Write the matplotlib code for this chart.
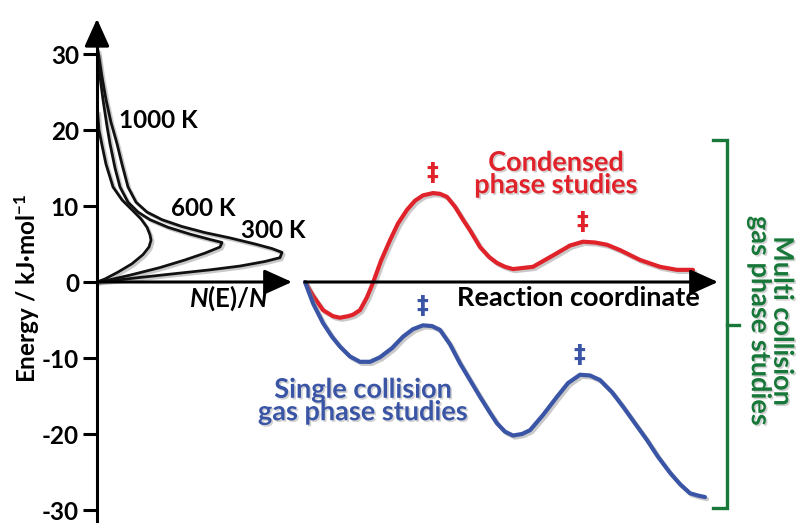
import matplotlib
matplotlib.use("Agg")
import matplotlib.pyplot as plt
import matplotlib.patheffects as pe
import numpy as np

plt.rcParams['font.family'] = ['Lato', 'DejaVu Sans']
plt.rcParams['font.weight'] = 'bold'
plt.rcParams['mathtext.fontset'] = 'custom'
plt.rcParams['mathtext.rm'] = 'Lato:bold'
plt.rcParams['mathtext.it'] = 'Lato:bold:italic'
plt.rcParams['mathtext.bf'] = 'Lato:bold'

# energy axis ticks (kJ/mol)
energy_ticks = [-30, -20, -10, 0, 10, 20, 30]

# population distributions N(E)/N (arbitrary width units) vs energy
pop_1000 = [0.5, 2, 5, 9, 16, 25, 35, 44, 50, 53, 54, 52, 46, 35, 21, 8, 0]
E_1000 = [22.5, 20, 18, 15.5, 12.5, 10.8, 9.5, 8.3, 7.2, 6.2, 5.5, 4.6, 3.6, 2.4, 1.3, 0.4, 0]
pop_600 = [1, 3, 6, 10, 13, 18, 23, 31, 41, 53, 71, 93, 113, 125, 123, 108, 88, 63, 33, 13, 0]
E_600 = [30.5, 27, 24, 20.5, 18.2, 15, 12.5, 10.5, 9.2, 8.2, 7.2, 6.3, 5.6, 5.2, 4.6, 3.8, 2.9, 1.9, 0.9, 0.3, 0]
pop_300 = [1.5, 5, 9, 14, 20, 25, 31, 39, 50, 65, 85, 108, 133, 158, 175, 185, 183, 168, 143, 113, 78, 43, 13, 0]
E_300 = [30, 27, 24, 21, 18.2, 15.5, 12.5, 10.5, 9.2, 8.2, 7.3, 6.5, 5.8, 5.0, 4.4, 3.9, 3.2, 2.7, 2.1, 1.6, 1.1, 0.6, 0.15, 0]
temp_labels = ['1000 K', '600 K', '300 K']

# reaction coordinate profiles (arbitrary units along coordinate)
rc_red = [0, 8, 18, 28, 35, 43, 48, 55, 62, 68, 76, 85, 93, 102, 110, 118, 128, 135,
          142, 150, 158, 165, 175, 184, 192, 200, 208, 228, 252, 265, 278, 290, 302,
          315, 335, 355, 372, 388]
E_red = [0, -1.8, -3.7, -4.5, -4.7, -4.5, -4.3, -3.7, -2.0, -0.1, 2.8, 5.5, 7.7, 9.5,
         10.7, 11.4, 11.7, 11.6, 11.2, 9.9, 8.2, 6.8, 4.6, 3.3, 2.5, 2.0, 1.7, 2.0,
         3.8, 4.8, 5.3, 5.2, 4.9, 4.2, 2.9, 2.0, 1.6, 1.6]
rc_blue = [0, 8, 18, 27, 35, 45, 55, 65, 75, 87, 98, 108, 118, 127, 135, 145, 155,
           165, 175, 185, 192, 200, 208, 217, 225, 238, 252, 263, 275, 285, 295, 307,
           318, 330, 342, 353, 365, 375, 385, 393, 400]
E_blue = [0, -2.8, -5.4, -7.2, -8.5, -9.8, -10.5, -10.5, -9.9, -8.7, -7.2, -6.2, -5.7,
          -5.8, -6.3, -8.2, -10.7, -12.9, -15.1, -17.2, -18.6, -19.7, -20.2, -20.0,
          -19.5, -17.5, -15.1, -13.3, -12.2, -12.3, -12.9, -14.5, -16.4, -18.6, -20.8,
          -23.0, -25.1, -26.6, -27.8, -28.1, -28.3]

RED = '#e0232b'
BLUE = '#3a55a5'
GREEN = '#17783a'


def e_at(py):
    # figure pixel row -> energy units
    return (282 - py) / 7.6


fig = plt.figure(figsize=(7.98, 5.23), dpi=100)
ax = fig.add_axes([0, 0, 1, 1])
ax.set_xlim(0, 798)
ax.set_ylim(e_at(523), e_at(0))
ax.patch.set_alpha(0)

# energy axis as a spine
x_axis0 = 97
for s in ['top', 'right', 'bottom']:
    ax.spines[s].set_visible(False)
ax.spines['left'].set_position(('data', x_axis0))
ax.spines['left'].set_bounds(e_at(523), e_at(30))
ax.spines['left'].set_linewidth(2.2)
ax.set_xticks([])
ax.set_yticks(energy_ticks)
ax.set_yticklabels([str(t) for t in energy_ticks])
ax.tick_params(axis='y', length=10, width=2.2, pad=3, labelsize=17.5)
ax.annotate('', xy=(x_axis0, e_at(16)), xytext=(x_axis0, e_at(40)),
            arrowprops=dict(arrowstyle='-|>,head_length=1.0,head_width=0.45',
                            color='black', lw=2.2, mutation_scale=17))
ax.text(27, e_at(288), 'Energy / kJ·mol$^{\\rm{-1}}$', rotation=90, ha='center',
        va='center', fontsize=17.5)

shadow = [pe.SimpleLineShadow(offset=(1.5, -1.5), shadow_color='#888888', alpha=0.45),
          pe.Normal()]
tshadow = [pe.withSimplePatchShadow(offset=(1.2, -1.2), shadow_rgbFace='#999999',
                                    alpha=0.45)]

# population axis and curves
ax.annotate('', xy=(292, 0), xytext=(x_axis0, 0),
            arrowprops=dict(arrowstyle='-|>,head_length=1.0,head_width=0.45',
                            color='black', lw=2.2, mutation_scale=17, shrinkA=0, shrinkB=0))
for pop, en in [(pop_1000, E_1000), (pop_600, E_600), (pop_300, E_300)]:
    ax.plot(np.array(pop) + x_axis0, en, color='#111111', lw=2.0,
            solid_joinstyle='round', solid_capstyle='round', path_effects=shadow)
ax.text(119, e_at(121), temp_labels[0], ha='left', va='center', fontsize=17.5)
ax.text(171, e_at(208), temp_labels[1], ha='left', va='center', fontsize=17.5)
ax.text(241, e_at(231), temp_labels[2], ha='left', va='center', fontsize=17.5)
ax.text(268, e_at(298), '$\\it{N}$(E)/$\\it{N}$', ha='right', va='center', fontsize=18.5)

# reaction coordinate axis and profiles
x_rc0 = 305
ax.annotate('', xy=(718, 0), xytext=(x_rc0, 0),
            arrowprops=dict(arrowstyle='-|>,head_length=1.0,head_width=0.45',
                            color='black', lw=2.2, mutation_scale=17, shrinkA=0, shrinkB=0))
ax.text(700, e_at(298), 'Reaction coordinate', ha='right', va='center', fontsize=19.5)

for rc, en, col in [(rc_red, E_red, RED), (rc_blue, E_blue, BLUE)]:
    xs = np.array(rc) + x_rc0
    en = np.array(en)
    ax.plot(xs, en, color=col, lw=3.0, solid_joinstyle='round',
            solid_capstyle='round', path_effects=shadow)
    for i in range(1, len(en) - 1):
        if en[i] > en[i - 1] and en[i] >= en[i + 1]:
            ax.text(xs[i] - 1, en[i] + 1.0, '‡', color=col, ha='center',
                    va='bottom', fontsize=17, family=['DejaVu Sans'])

ax.text(556, e_at(174), 'Condensed\nphase studies', color=RED, ha='center',
        va='center', fontsize=19.5, linespacing=0.92, path_effects=tshadow)
ax.text(363, e_at(401), 'Single collision\ngas phase studies', color=BLUE, ha='center',
        va='center', fontsize=19.5, linespacing=0.92, path_effects=tshadow)

# multi-collision bracket
xb = 727
ax.plot([xb - 14, xb, xb, xb - 14], [e_at(140), e_at(140), e_at(508), e_at(508)],
        color=GREEN, lw=2.4, solid_joinstyle='miter')
ax.plot([xb, xb + 12], [e_at(325), e_at(325)], color=GREEN, lw=2.4)
ax.text(771, e_at(321), 'Multi collision\ngas phase studies', color=GREEN, rotation=-90,
        ha='center', va='center', fontsize=19.5, linespacing=0.92, path_effects=tshadow)

fig.savefig('out.png', dpi=100)
